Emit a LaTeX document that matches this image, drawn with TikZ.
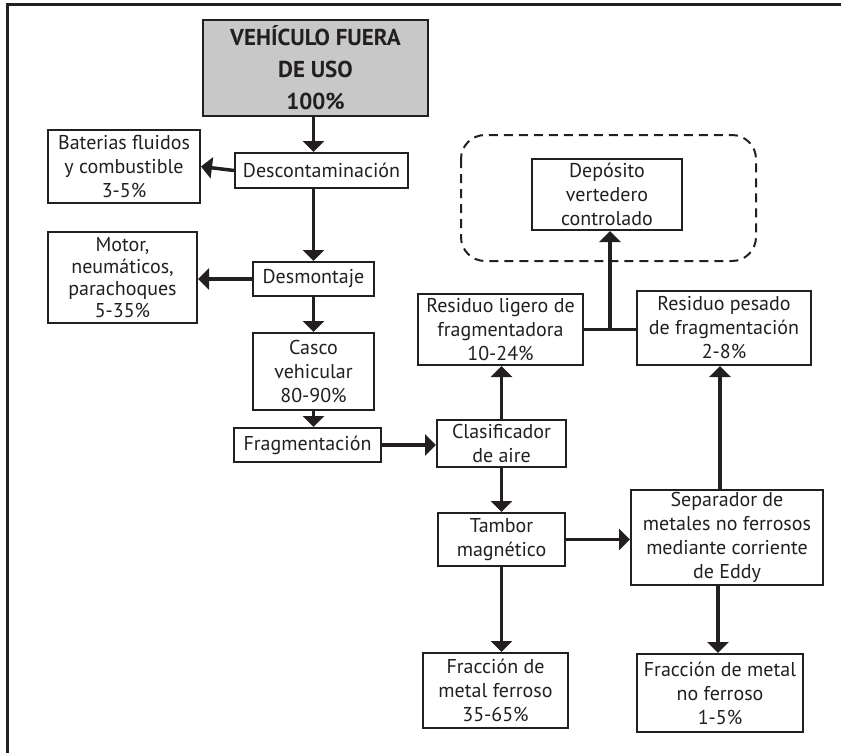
\documentclass[tikz,border=0pt]{standalone}
\usepackage{fontspec}
\setmainfont{PT Sans}
\usepackage{xcolor}
\usepackage{tikz}
\usetikzlibrary{arrows.meta,calc}
\definecolor{ink}{RGB}{35,31,32}
\definecolor{shell}{RGB}{200,200,200}
\tikzset{
  stage/.style={draw=ink, line width=2pt, fill=white, text=ink, align=center,
    inner sep=1pt, font=\fontsize{20}{24}\selectfont},
  source/.style={stage, fill=shell, font=\bfseries\fontsize{23}{32}\selectfont},
  wh/.style n args={2}{minimum width=#1pt, minimum height=#2pt},
  flowArrow/.style={-{Triangle[width=21pt,length=11pt]}, draw=ink, line width=3.5pt},
  joinLine/.style={draw=ink, line width=3.5pt},
  landfill/.style={draw=ink, line width=2pt, dash pattern=on 9pt off 6pt, rounded corners=24pt}
}

\begin{document}
\begin{tikzpicture}[x=1pt, y=-1pt]
  \useasboundingbox (0,0) rectangle (841,753);
  % frame (left and top only)
  \draw[ink, line width=3pt] (7,753) -- (7,4) -- (841,4);
  % left column
  \node[source, wh={225}{96}] (vfu) at (315.5,68) {VEHÍCULO FUERA\\DE USO\\100\%};
  \node[stage, wh={173}{35}] (desc) at (321.5,170.5) {Descontaminación};
  \node[stage, wh={152}{73}] (bat) at (124,166.5) {Baterias fluidos\\y combustible\\3-5\%};
  \node[stage, wh={121}{34}] (desm) at (313.5,279) {Desmontaje};
  \node[stage, wh={149}{91}, font=\fontsize{20}{22}\selectfont] (motor) at (122.5,277.5)
    {Motor,\\neumáticos,\\parachoques\\5-35\%};
  \node[stage, wh={121}{77}] (casco) at (313.5,371.5) {Casco\\vehicular\\80-90\%};
  \node[stage, wh={147}{34}] (frag) at (307.5,445) {Fragmentación};
  % separation line
  \node[stage, wh={129}{47}] (clas) at (501.5,443.5) {Clasificador\\de aire};
  \node[stage, wh={127}{53}] (tambor) at (501.5,539.5) {Tambor\\magnético};
  \node[stage, wh={145}{75}] (ferr) at (495.5,690.5) {Fracción de\\metal ferroso\\35-65\%};
  \node[stage, wh={192}{95}] (sep) at (727,537.5)
    {Separador de\\metales no ferrosos\\mediante corriente\\de Eddy};
  \node[stage, wh={166}{78}] (noferr) at (720,693) {Fracción de metal\\no ferroso\\1-5\%};
  % residues and landfill
  \node[stage, wh={165}{71}] (ligero) at (500.5,329.5) {Residuo ligero de\\fragmentadora\\10-24\%};
  \node[stage, wh={174}{74}] (pesado) at (724,328) {Residuo pesado\\de fragmentación\\2-8\%};
  \draw[landfill] (461,135) rectangle (756,261);
  \node[stage, wh={150}{71}] (depo) at (607,194.5) {Depósito\\vertedero\\controlado};
  % flows
  \draw[flowArrow] (desm.north |- vfu.south) -- (desm.north |- desc.north);
  \draw[flowArrow] (desc.west) -- (bat.east);
  \draw[flowArrow] (desm.north |- desc.south) -- (desm.north);
  \draw[flowArrow] (desm.west) -- (desm.west -| motor.east);
  \draw[flowArrow] (desm.south) -- (casco.north);
  \draw[flowArrow] (casco.south) -- (casco.south |- frag.north);
  \draw[flowArrow] (frag.east) -- (frag.east -| clas.west);
  \draw[flowArrow] (clas.north) -- (clas.north |- ligero.south);
  \draw[flowArrow] (clas.south) -- (tambor.north);
  \draw[flowArrow] (tambor.east) -- (tambor.east -| sep.west);
  \draw[flowArrow] (tambor.south) -- (tambor.south |- ferr.north);
  \draw[flowArrow] ([xshift=-7pt]sep.north) -- ([xshift=-7pt]sep.north |- pesado.south);
  \draw[flowArrow] ([xshift=-9pt]sep.south) -- ([xshift=-9pt]sep.south |- noferr.north);
  \coordinate (jn) at ($(ligero.east)!0.5!(ligero.east -| pesado.west)$);
  \draw[joinLine] (ligero.east) -- (ligero.east -| pesado.west);
  \draw[flowArrow] (jn) -- (jn |- depo.south);
\end{tikzpicture}
\end{document}
